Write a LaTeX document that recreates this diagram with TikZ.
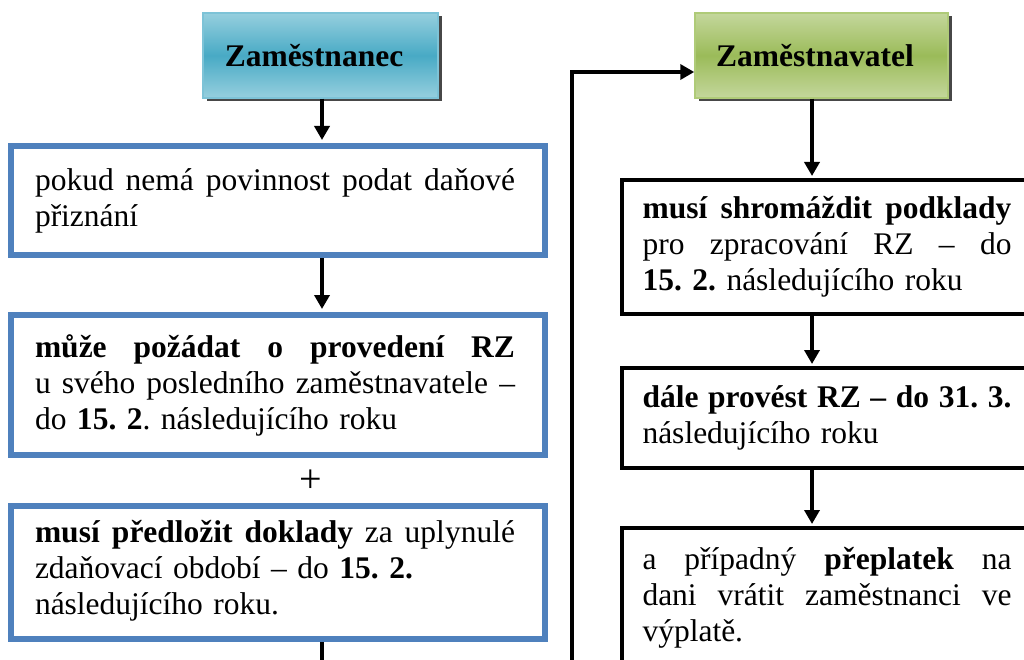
\documentclass[tikz,border=0pt]{standalone}
\usepackage{fontspec}
\setmainfont{Liberation Serif}
\usetikzlibrary{arrows.meta,shadows,calc}
\definecolor{lblue}{RGB}{79,129,189}
\definecolor{tealL}{RGB}{150,207,222}
\definecolor{tealD}{RGB}{72,170,197}
\definecolor{tealB}{RGB}{125,195,215}
\definecolor{grnL}{RGB}{196,215,156}
\definecolor{grnD}{RGB}{155,187,89}
\definecolor{grnB}{RGB}{175,203,120}
\frenchspacing
\tikzset{
  txtfont/.style={font=\fontsize{31.5}{36}\selectfont},
  titlebox/.style={rectangle, line width=1.5pt, minimum height=85pt, inner sep=0pt,
    general shadow={fill=black!72, shadow xshift=3.5pt, shadow yshift=-3.5pt},
    font=\fontsize{31.5}{36}\selectfont\bfseries},
  tealbox/.style={titlebox, draw=tealB, top color=tealL, bottom color=tealL, middle color=tealD},
  grnbox/.style={titlebox, draw=grnB, top color=grnL, bottom color=grnL, middle color=grnD},
  lbox/.style={rectangle, draw=lblue, line width=6pt, minimum width=534pt, inner sep=0pt},
  rbox/.style={rectangle, draw=black, line width=4pt, minimum width=410pt, inner sep=0pt},
  ltext/.style={txtfont, text width=480pt, align=left, inner sep=0pt},
  rtext/.style={txtfont, text width=369pt, align=left, inner sep=0pt},
  arr/.style={line width=3.5pt, -{Triangle[width=15pt,length=14pt]}},
  conn/.style={line width=3.5pt}
}
\newcommand{\jl}[2]{\leavevmode\hbox to #1{#2}}
\begin{document}
\begin{tikzpicture}[x=1pt,y=-1pt]
\useasboundingbox (0,0) rectangle (1024,660);
\fill[white] (0,0) rectangle (1024,660);
\coordinate (lx) at (322,0);
\coordinate (rx) at (812,0);
% left column
\node[tealbox, minimum width=235pt] (emp) at (320.5,55.5) {Zaměstnanec\hspace*{13pt}};
\node[lbox, minimum height=109pt] (b1) at (278,200.5) {};
\node[ltext] (t1) at ([xshift=-3pt]b1.center) {\jl{480pt}{pokud\hfill nemá\hfill povinnost\hfill podat\hfill daňové}\\přiznání};
\node[lbox, minimum height=140pt] (b2) at (278,385) {};
\node[ltext] (t2) at ([xshift=-3pt]b2.center) {\jl{480pt}{\bfseries může\hfill požádat\hfill o\hfill provedení\hfill RZ}\\\jl{480pt}{u\hfill svého\hfill posledního\hfill zaměstnavatele\hfill –}\\do \textbf{15. 2}. následujícího roku};
\node[inner sep=0pt, font=\fontsize{40}{40}\selectfont] (plus) at (311,481) {+};
\node[lbox, minimum height=133pt] (b3) at (278,572.5) {};
\node[ltext] (t3) at ([xshift=-3pt,yshift=2pt]b3.center) {\jl{480pt}{\textbf{musí}\hfill\textbf{předložit}\hfill\textbf{doklady}\hfill za\hfill uplynulé}\\zdaňovací období – do \textbf{15. 2.}\\následujícího roku.};
\coordinate (lend) at (322,668);
% right column
\node[grnbox, minimum width=253pt] (emr) at (821.5,55.5) {Zaměstnavatel\hspace*{13pt}};
\node[rbox, minimum height=133.5pt] (b4) at (827,246.75) {};
\node[rtext] (t4) at (b4.center) {\jl{369pt}{\bfseries musí\hfill shromáždit\hfill podklady}\\\jl{369pt}{pro\hfill zpracování\hfill RZ\hfill –\hfill do}\\\textbf{15. 2.} následujícího roku};
\node[rbox, minimum height=100pt] (b5) at (827,418) {};
\node[rtext] (t5) at (b5.center) {\jl{369pt}{\bfseries dále\hfill provést\hfill RZ\hfill –\hfill do\hfill 31.\hfill 3.}\\následujícího roku};
\node[rbox, minimum height=140pt] (b6) at (827,598) {};
\node[rtext] (t6) at (b6.center) {\jl{369pt}{a\hfill případný\hfill \textbf{přeplatek}\hfill na}\\\jl{369pt}{dani\hfill vrátit\hfill zaměstnanci\hfill ve}\\výplatě.};
\coordinate (loop) at (572,668);
% connectors
\draw[arr, shorten >=3pt] (emp.south -| lx) -- (b1.north -| lx);
\draw[arr, shorten >=3pt] (b1.south -| lx) -- (b2.north -| lx);
\draw[conn] (b3.south -| lx) -- (lend);
\draw[arr, shorten >=2pt] (emr.south -| rx) -- (b4.north -| rx);
\draw[arr, shorten >=2pt] (b4.south -| rx) -- (b5.north -| rx);
\draw[arr, shorten >=2pt] (b5.south -| rx) -- (b6.north -| rx);
\draw[arr] (loop) |- ([yshift=-16.5pt]emr.west);
\end{tikzpicture}
\end{document}
